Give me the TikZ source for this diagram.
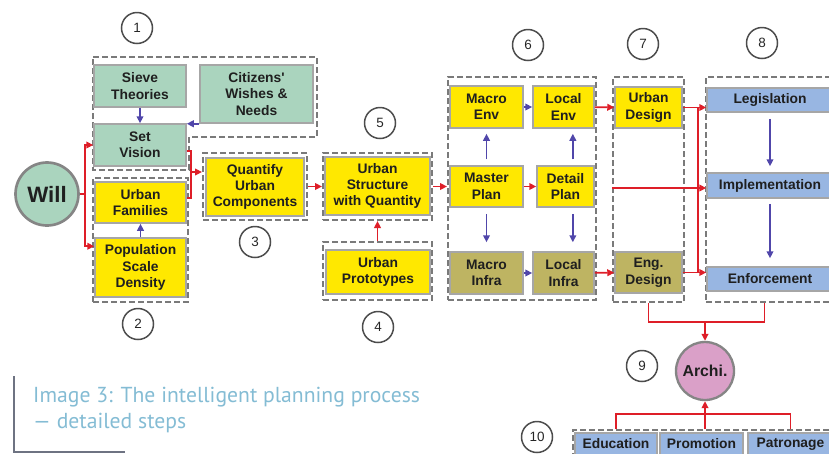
\documentclass[tikz,border=0pt]{standalone}
\usepackage{fontspec}
\setmainfont{Liberation Sans}
\newfontfamily\capfont{PT Sans}
\usetikzlibrary{positioning,fit,calc,arrows.meta}
\definecolor{sage}{RGB}{170,212,190}
\definecolor{ylw}{RGB}{255,232,0}
\definecolor{olv}{RGB}{190,180,98}
\definecolor{lblue}{RGB}{152,182,226}
\definecolor{pnk}{RGB}{218,160,200}
\definecolor{arrred}{RGB}{222,30,40}
\definecolor{arrblue}{RGB}{80,70,170}
\definecolor{capblue}{RGB}{132,188,212}
\definecolor{capgray}{RGB}{110,115,130}
\tikzset{
  boxtext/.style={font=\bfseries\fontsize{11.8}{14}\selectfont,text=black!88,align=center,inner sep=0pt},
  rectnode/.style args={#1,#2}{
  boxtext,
  draw=black!35,
  line width=0.45mm,
  minimum width=#1*0.3mm,
  minimum height=#2*0.3mm,
  },
  greenbox/.style args={#1,#2}{rectnode={#1,#2},fill=sage},
  yellowbox/.style args={#1,#2}{rectnode={#1,#2},fill=ylw},
  olivebox/.style args={#1,#2}{rectnode={#1,#2},fill=olv},
  bluebox/.style args={#1,#2}{rectnode={#1,#2},fill=lblue},
  grp/.style={draw=black!52,line width=0.6mm,dash pattern=on 1.8mm off 0.9mm,inner sep=0pt},
  numc/.style={circle,draw=black!70,line width=0.45mm,fill=white,minimum size=31*0.3mm,inner sep=0pt,font=\fontsize{11.5}{13}\selectfont,text=black!85},
  bigc/.style={circle,draw=black!48,line width=0.8mm,inner sep=0pt,font=\bfseries,text=black!88},
  redline/.style={draw=arrred,line width=0.5mm},
  redarr/.style={redline,-{Triangle[length=2.1mm,width=2mm]}},
  bluearr/.style={draw=arrblue,line width=0.5mm,-{Triangle[length=2.1mm,width=2mm]}},
  captext/.style={font=\capfont\fontsize{18.5}{22}\selectfont,text=capblue,inner sep=0pt,anchor=base west}
}
\begin{document}
\begin{tikzpicture}[x=0.3mm,y=-0.3mm]
  \useasboundingbox (0,0) rectangle (829,453);

  % groups
  \draw[grp] (93,57) -- (317,57) -- (317,137) -- (189,137) -- (189,170) -- (93,170) -- cycle;
  \node[grp,fit={(93,178) (188,302)}] (g2) {};
  \node[grp,fit={(203,153) (307,220)}] (g3) {};
  \node[grp,fit={(323,153) (432,220)}] (g5) {};
  \node[grp,fit={(323,242) (432,300)}] (g4) {};
  \node[grp,fit={(448,77) (596,300)}] (g6) {};
  \node[grp,fit={(613,77) (684,302)}] (g7) {};
  \node[grp,fit={(706,77) (845,302)}] (g8) {};
  \node[grp,fit={(573,430) (845,475)}] (g10) {};

  % boxes
  \node[bigc,fill=sage,minimum size=63*0.3mm,font=\bfseries\fontsize{19}{21}\selectfont] (will) at (47,194) {Will};
  \node[greenbox={92,42}] (sieve) at (140,86) {Sieve\\Theories};
  \node[greenbox={113,58}] (citizens) at (256.5,94) {Citizens\textquotesingle\\Wishes \&\\Needs};
  \node[greenbox={92,42}] (vision) at (140,145) {Set\\Vision};
  \node[yellowbox={91,41}] (families) at (140.5,202.5) {Urban\\Families};
  \node[yellowbox={91,59}] (pop) at (140.5,267.5) {Population\\Scale\\Density};
  \node[yellowbox={98,58}] (quant) at (255,187) {Quantify\\Urban\\Components};
  \node[yellowbox={105,58}] (struct) at (377.5,186) {Urban\\Structure\\with Quantity};
  \node[yellowbox={104,44}] (proto) at (378,272) {Urban\\Prototypes};
  \node[yellowbox={73,42}] (macroenv) at (486.5,107) {Macro\\Env};
  \node[yellowbox={61,42}] (locenv) at (563.5,107) {Local\\Env};
  \node[yellowbox={73,41}] (master) at (486.5,186.5) {Master\\Plan};
  \node[yellowbox={57,41}] (detail) at (565.5,186.5) {Detail\\Plan};
  \node[olivebox={73,42}] (macroinf) at (486.5,273) {Macro\\Infra};
  \node[olivebox={61,42}] (locinf) at (563.5,273) {Local\\Infra};
  \node[yellowbox={67,41}] (udesign) at (648.5,107.5) {Urban\\Design};
  \node[olivebox={67,41}] (edesign) at (648.5,272.5) {Eng.\\Design};
  \node[bluebox={126,24}] (legis) at (770,100) {Legislation};
  \node[bluebox={126,25}] (impl) at (770,185.5) {Implementation};
  \node[bluebox={126,24}] (enforce) at (770,279) {Enforcement};
  \node[bigc,fill=pnk,minimum size=58*0.3mm,line width=0.7mm,font=\bfseries\fontsize{13.5}{15}\selectfont] (archi) at (705,371) {Archi.};
  \node[bluebox={82,22}] (edu) at (616,444) {Education};
  \node[bluebox={83,22}] (promo) at (701.5,444) {Promotion};
  \node[bluebox={85,22}] (patron) at (790.5,444) {Patronage};

  % step numbers
  \node[numc] (n1) at (137,28) {1};
  \node[numc] (n2) at (138,324) {2};
  \node[numc] (n3) at (255,242) {3};
  \node[numc] (n4) at (378,327) {4};
  \node[numc] (n5) at (380,123) {5};
  \node[numc] (n6) at (528,45) {6};
  \node[numc] (n7) at (643,44) {7};
  \node[numc] (n8) at (762,43) {8};
  \node[numc] (n9) at (642,366) {9};
  \node[numc] (n10) at (537,437) {10};

  % blue arrows
  \draw[bluearr] (sieve) -- (vision);
  \draw[bluearr] (citizens.south west) -- (citizens.south west -| vision.east);
  \draw[bluearr] (pop) -- (families);
  \draw[bluearr] (macroenv) -- (locenv);
  \draw[bluearr] (macroinf) -- (locinf);
  \draw[bluearr,shorten <=1.8mm,shorten >=1.5mm] (master) -- (macroenv);
  \draw[bluearr,shorten <=1.8mm,shorten >=2.7mm] (master) -- (macroinf);
  \draw[bluearr,shorten <=1.8mm,shorten >=1.5mm] ([xshift=2.2mm]detail.north) -- ([xshift=2.2mm]detail.north |- locenv.south);
  \draw[bluearr,shorten <=1.8mm,shorten >=2.7mm] ([xshift=2.2mm]detail.south) -- ([xshift=2.2mm]detail.south |- locinf.north);
  \draw[bluearr,shorten <=1.8mm,shorten >=1.8mm] (legis) -- (impl);
  \draw[bluearr,shorten <=1.5mm,shorten >=2.4mm] (impl) -- (enforce);

  % red arrows
  \draw[redarr] (will.east) -- ++(5,0) |- (vision.west);
  \draw[redarr] (will.east) -- ++(5,0) |- ([yshift=-2.7mm]pop.north west);
  \draw[redline] ([yshift=-1.8mm]vision.east) -- ++(4,0) |- ([yshift=1.35mm]families.east);
  \coordinate (bk) at (190,172);
  \draw[redarr] (bk) -- (bk -| g3.west);
  \draw[redarr] (g3.east) -- (g3.east -| g5.west);
  \draw[redarr] (g4) -- (g5);
  \draw[redarr] (g5.east) -- (g5.east -| g6.west);
  \draw[redarr] (master) -- (detail);
  \draw[redarr] (locenv) -- (udesign);
  \draw[redarr] (locinf) -- (edesign);
  \draw[redarr] (udesign.east) -- (udesign.east -| legis.west);
  \draw[redarr] (edesign.east) -- (edesign.east -| enforce.west);
  \draw[redline] ([xshift=4.5mm]udesign.east) -- ([xshift=4.5mm]edesign.east);
  \draw[redarr] ([yshift=-0.75mm]g7.west |- impl.west) -- ([yshift=-0.75mm]impl.west);
  \coordinate (top9) at (705,322);
  \draw[redline] (g7.south) |- (top9) -| ([xshift=-3.3mm]g8.south);
  \draw[redarr] (top9) -- (archi);
  \coordinate (bot9) at (705,414);
  \draw[redline] (g10.north -| edu.north) |- (bot9) -| (g10.north -| patron.north);
  \draw[redarr] (archi.south |- g10.north) -- (archi.south);

  % caption
  \draw[capgray,line width=0.45mm] (14,376) -- (14,452) -- (125,452);
  \node[captext] (cap1) at (33,402) {Image 3: The intelligent planning process};
  \node[captext] (cap2) at (33,428) {— detailed steps};
\end{tikzpicture}
\end{document}
